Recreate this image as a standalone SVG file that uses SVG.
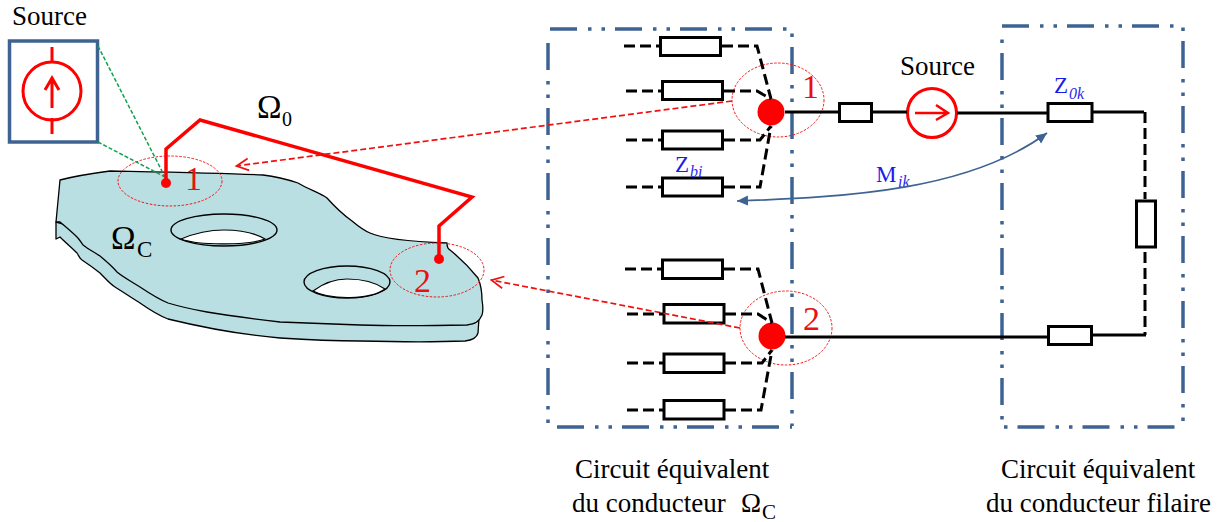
<svg xmlns="http://www.w3.org/2000/svg" width="1228" height="522" viewBox="0 0 1228 522">
<style>
text{font-family:"Liberation Serif","Times New Roman",serif}
.t{font-size:27px;fill:#000}
.n{font-size:34px;fill:#e81010}
.b{font-size:23px;fill:#1a1aee}
.s{font-size:16px;fill:#2a2af0;font-style:italic}
.r{fill:#fff;stroke:#000;stroke-width:3}
.w{fill:none;stroke:#000;stroke-width:3}
.d{fill:none;stroke:#000;stroke-width:3;stroke-dasharray:11 5}
.f{fill:none;stroke:#3e6392;stroke-width:3.5;stroke-dasharray:27 11 3.5 10 3.5 10}
.e{fill:none;stroke:#f01818;stroke-width:1;stroke-dasharray:2.5 1.5}
.q{fill:none;stroke:#f01010;stroke-width:1.7;stroke-dasharray:6 3}
.g{fill:none;stroke:#10a050;stroke-width:1.5;stroke-dasharray:4 2}
.p{fill:#b9dfe3;stroke:#000;stroke-width:1.3;stroke-linejoin:round}
.red{fill:none;stroke:#f00;stroke-width:3.5}
</style>
<defs>
<marker id="open" markerUnits="userSpaceOnUse" markerWidth="16" markerHeight="16" refX="13.5" refY="7" orient="auto"><path d="M1 1 L13 7 L1 13" fill="none" stroke="#f01010" stroke-width="1.7"/></marker>
<marker id="blue" markerUnits="userSpaceOnUse" markerWidth="14" markerHeight="12" refX="11" refY="5" orient="auto-start-reverse"><path d="M0 0 L11 5 L0 10 Z" fill="#3e6392"/></marker>
</defs>

<g id="plate">
<path class="p" d="M56 239 L60 237 C66 243 72 248 77 253 C79 256 80 259 82 260 C88 264 95 269 100 273 C106 279 110 284 115 287 C123 292 132 298 140 303 C150 310 160 316 168 319 C205 328 245 335 280 338 C310 340 340 341 360 341 C400 342 440 342 465 341 C473 340 477 337 478 333 L479 318 L300 290 L56 222 Z"/>
<path class="p" d="M60 180 C75 176 95 173 110 171 C160 172 220 173 263 175 C280 177 292 181 298 183 C310 190 320 193 327 198 C335 207 345 216 352 221 C358 226 365 231 370 233 C385 240 420 242 447 243 C447 246 448 249 450 250 C460 258 470 268 478 278 C481 285 482 292 482 300 C483 306 483 312 482 315 C479 322 475 324 467 325 C420 326 390 326 360 325 C330 324 300 323 280 322 C255 319 230 316 207 312 C190 309 178 306 168 303 C158 299 149 293 140 287 C132 282 123 277 117 272 C112 266 106 261 100 256 C94 252 88 249 83 245 C81 242 79 239 77 237 C72 232 66 227 60 222 L56 222 Z"/>
</g>
<g id="hole1">
<ellipse cx="224" cy="230" rx="53" ry="16" fill="#b9dfe3" stroke="#000" stroke-width="1.4"/>
<path d="M181 239 C200 231 215 230 224 230 C240 230 255 233 265 239 C250 245 200 246 181 239 Z" fill="#fff" stroke="#000" stroke-width="1.2"/>
</g>
<g id="hole2">
<ellipse cx="347" cy="282" rx="43" ry="16" fill="#b9dfe3" stroke="#000" stroke-width="1.4"/>
<path d="M313 291 C325 282 338 279 347 279 C360 279 375 282 385 289 C370 300 330 300 313 291 Z" fill="#fff" stroke="#000" stroke-width="1.2"/>
</g>
<text class="t" x="12" y="25">Source</text>
<g id="source-inset">
<rect x="9.5" y="41" width="88" height="101" fill="#fff" stroke="#3e6392" stroke-width="3.5"/>
<circle cx="52" cy="91" r="29" fill="none" stroke="#f00" stroke-width="3"/>
<path d="M52 47V63M52 118V134M52 108V78M45 90L52 78L59 90" fill="none" stroke="#f00" stroke-width="3"/>
</g>
<g id="frame-left">
<path class="f" d="M550 29H790"/>
<path class="f" d="M792 33.5V426" stroke-dashoffset="51.5"/>
<path class="f" d="M557 427H792"/>
<path class="f" d="M548 43V426"/>
</g>
<g id="frame-right">
<path class="f" d="M1002 26H1183"/>
<path class="f" d="M1183 27.5V426" stroke-dashoffset="51.5"/>
<path class="f" d="M1002 39.5V420" stroke-dashoffset="51.5"/>
<path class="f" d="M1004 427H1181" stroke-dashoffset="51.5"/>
</g>
<g id="marker-1"><ellipse class="e" cx="170" cy="181" rx="52" ry="25"/><circle cx="166" cy="183" r="5" fill="#f00"/><text class="n" x="185" y="190">1</text></g>
<g id="marker-2"><ellipse class="e" cx="437" cy="270" rx="47" ry="27"/><circle cx="439" cy="259" r="5" fill="#f00"/><text class="n" x="414" y="292">2</text></g>
<g id="omega0"><text x="257" y="118" font-size="33">Ω</text><text x="282" y="126" font-size="20">0</text></g>
<g id="omegaC"><text x="111" y="249" font-size="33">Ω</text><text x="137" y="257" font-size="23">C</text></g>

<g id="z-r1"><rect class="r" x="660.5" y="37.5" width="60" height="18"/></g>
<g id="z-r2"><rect class="r" x="662.5" y="81.5" width="60" height="18"/></g>
<g id="z-r3"><rect class="r" x="662.5" y="131" width="60" height="18"/></g>
<g id="z-r4"><rect class="r" x="662.5" y="178" width="60" height="18"/></g>
<g id="z-r5"><rect class="r" x="662.5" y="260" width="60" height="18.5"/></g>
<g id="z-r6"><rect class="r" x="664" y="304.5" width="60" height="18.5"/></g>
<g id="z-r7"><rect class="r" x="664" y="354" width="60" height="18.5"/></g>
<g id="z-r8"><rect class="r" x="664" y="400.5" width="60" height="18.5"/></g>
<g id="zbi"><text class="b" x="675" y="172">Z</text><text class="s" x="690" y="177">bi</text></g>
<g id="node-1"><ellipse class="e" cx="778" cy="100" rx="46" ry="37"/><circle cx="771" cy="112" r="13.5" fill="#f00"/><text class="n" x="802" y="98">1</text></g>
<g id="node-2"><ellipse class="e" cx="786" cy="328" rx="46" ry="37"/><circle cx="772" cy="336" r="13.5" fill="#f00"/><text class="n" x="803" y="330">2</text></g>
<g id="z-line"><rect class="r" x="839.5" y="103.5" width="32" height="18"/></g>
<g id="source-right"><text class="t" x="900" y="75">Source</text><circle cx="932" cy="113" r="24.5" fill="#fff" stroke="#f00" stroke-width="3"/><path d="M915 113H948M936 105L948 113L936 120" fill="none" stroke="#f00" stroke-width="2.5"/></g>
<g id="z0k"><rect class="r" x="1048" y="103.5" width="44" height="18"/><text class="b" x="1054" y="93">Z</text><text class="s" x="1069" y="99">0k</text></g>
<g id="z-right"><rect class="r" x="1136.5" y="201" width="19" height="46"/></g>
<g id="z-bottom"><rect class="r" x="1048.5" y="326.5" width="43" height="18"/></g>
<g id="mik"><text class="b" x="876" y="182">M</text><text class="s" x="898" y="187">ik</text></g>
<g id="label-left"><text class="t" x="575" y="478">Circuit équivalent</text><text class="t" x="572" y="512">du conducteur</text><text x="741" y="512" font-size="27">Ω</text><text x="762" y="519" font-size="21">C</text></g>
<g id="label-right"><text class="t" x="1001" y="478">Circuit équivalent</text><text class="t" x="986" y="512">du conducteur filaire</text></g>

<g id="connectors">
<path class="g" d="M98 46L165 177M98 142L165 177"/>
<path class="red" d="M166 183V149L200 120L472 197L439 226V258"/>
<path class="q" d="M732 101L236 166" marker-end="url(#open)"/>
<path class="q" d="M740 328L491 280" marker-end="url(#open)"/>
<path d="M737 201C850 197 970 190 1047 133" fill="none" stroke="#3e6392" stroke-width="1.7" marker-start="url(#blue)" marker-end="url(#blue)"/>
<path class="d" d="M624 46H659M722 46H757L771 99M626 91H661M724 91H757L771 99M626 140H661M724 140H760L771 126M626 187H661M724 187H760L771 126"/>
<path class="d" d="M625 269H661M724 269H758L772 323M627 314H663M725 314H758L772 323M627 363H663M725 363H762L772 350M627 410H663M725 410H761L772 350"/>
<path class="w" d="M785 112H838M873 112H907M957 113H1047M1093 112H1144M785 337H1048M1092 335H1146"/>
<path class="d" d="M1145 112V199M1145 252V335"/>
</g>
</svg>
